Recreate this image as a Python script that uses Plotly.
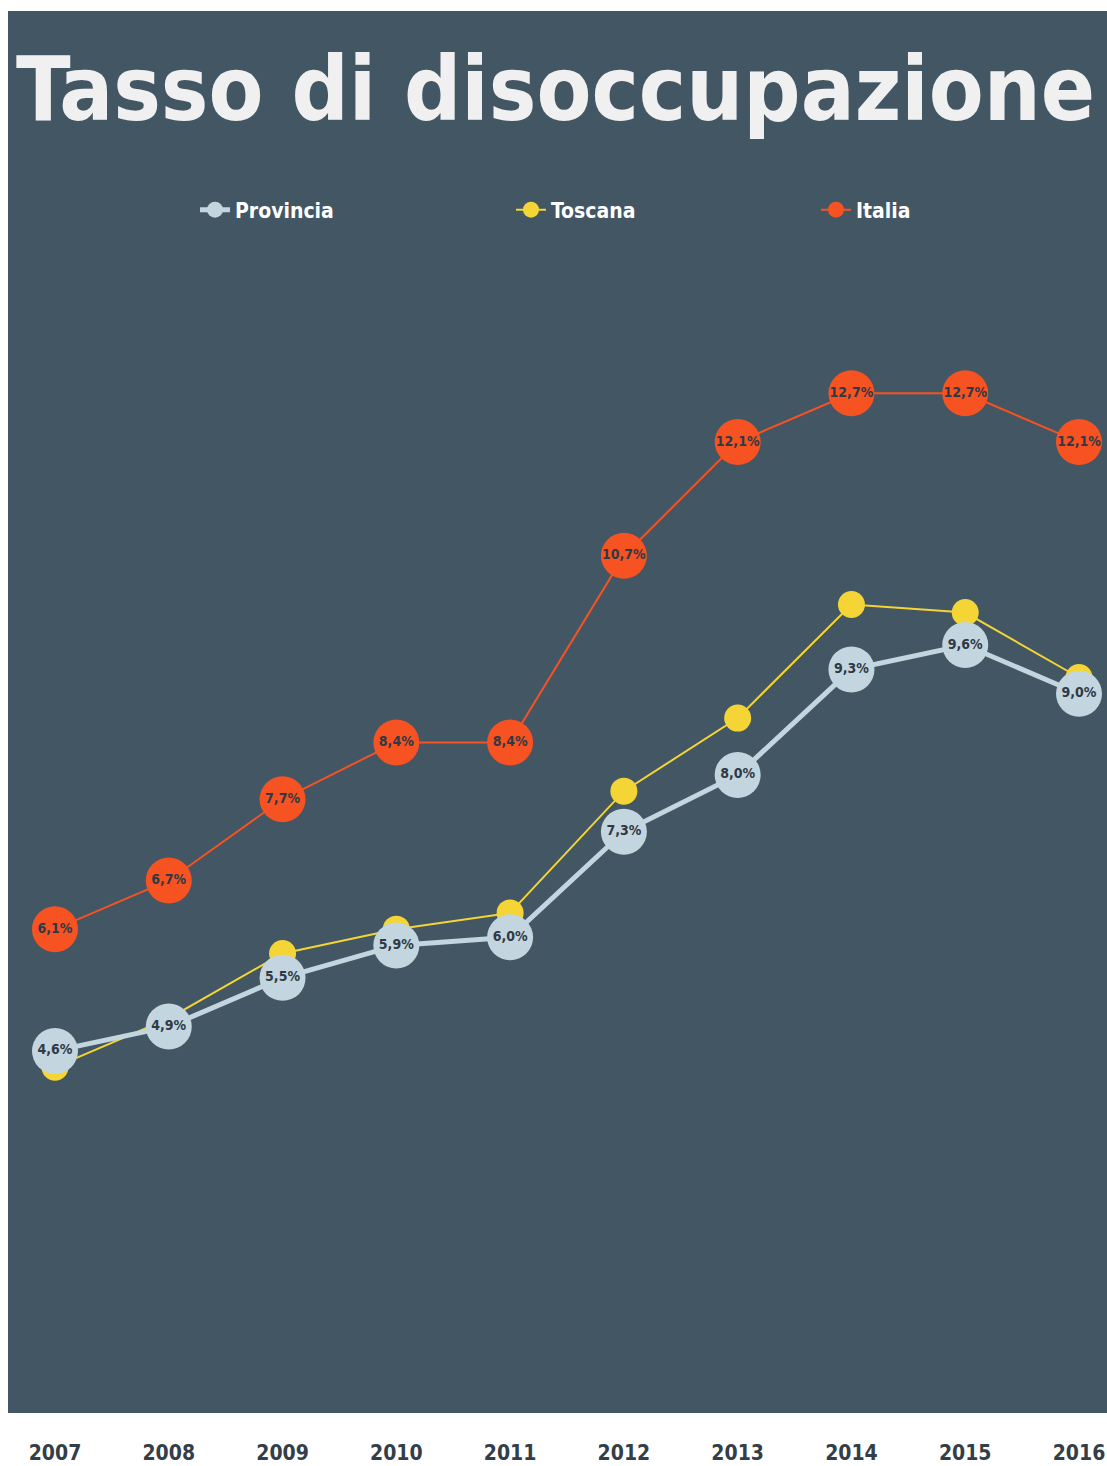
import plotly.graph_objects as go

# Unemployment rate (%) by year
years = [2007, 2008, 2009, 2010, 2011, 2012, 2013, 2014, 2015, 2016]
provincia = [4.6, 4.9, 5.5, 5.9, 6.0, 7.3, 8.0, 9.3, 9.6, 9.0]
toscana = [4.4, 5.0, 5.8, 6.1, 6.3, 7.8, 8.7, 10.1, 10.0, 9.2]
italia = [6.1, 6.7, 7.7, 8.4, 8.4, 10.7, 12.1, 12.7, 12.7, 12.1]

series_names = ["Provincia", "Toscana", "Italia"]
title_text = "Tasso di disoccupazione"

BG = "#425664"
C_PROV = "#c3d5de"
C_TOSC = "#f4d535"
C_ITA = "#f75222"
LABEL_DARK = "#2e3a45"
FONT = "DejaVu Sans Condensed"

W, H = 1107, 1466
L, R, T, B = 8, 0, 11, 53
plot_w = W - L - R
plot_h = H - T - B


def px_x(p):
    return (p - L) / plot_w


def px_y(p):
    return (H - B - p) / plot_h


def fmt(v):
    return f"{v:.1f}".replace(".", ",") + "%"


label_font = dict(family=FONT, size=14, color=LABEL_DARK, weight="bold")

fig = go.Figure()

fig.add_trace(go.Scatter(
    x=years, y=italia, name=series_names[2], legend="legend3",
    mode="lines+markers+text",
    line=dict(color=C_ITA, width=2),
    marker=dict(color=C_ITA, size=46),
    text=[fmt(v) for v in italia], textposition="middle center",
    textfont=label_font,
))
fig.add_trace(go.Scatter(
    x=years, y=toscana, name=series_names[1], legend="legend2",
    mode="lines+markers",
    line=dict(color=C_TOSC, width=2),
    marker=dict(color=C_TOSC, size=27),
))
fig.add_trace(go.Scatter(
    x=years, y=provincia, name=series_names[0], legend="legend",
    mode="lines+markers+text",
    line=dict(color=C_PROV, width=5),
    marker=dict(color=C_PROV, size=46),
    text=[fmt(v) for v in provincia], textposition="middle center",
    textfont=label_font,
))

fig.add_annotation(
    text=title_text, xref="paper", yref="paper",
    x=px_x(555), y=px_y(89), xanchor="center", yanchor="middle",
    showarrow=False,
    font=dict(family=FONT, size=89, color="#f0f0f0", weight="bold"),
)

legend_style = dict(
    orientation="h", xanchor="left", yanchor="middle",
    bgcolor="rgba(0,0,0,0)",
    font=dict(family=FONT, size=21, color="white", weight="bold"),
    itemsizing="trace",
)
# one legend box per series so each entry sits at its own spot
legend_x = [195, 511, 816]

fig.update_layout(
    width=W, height=H,
    margin=dict(l=L, r=R, t=T, b=B, pad=0),
    paper_bgcolor="white",
    plot_bgcolor=BG,
    showlegend=True,
    legend=dict(x=px_x(legend_x[0]), y=px_y(210), **legend_style),
    legend2=dict(x=px_x(legend_x[1]), y=px_y(210), **legend_style),
    legend3=dict(x=px_x(legend_x[2]), y=px_y(210), **legend_style),
    xaxis=dict(
        range=[2006.587, 2016.246],
        tickvals=years, ticktext=[str(y) for y in years],
        tickfont=dict(family=FONT, size=21, color="#333e48", weight="bold"),
        showgrid=False, zeroline=False, showline=False,
        ticks="outside", ticklen=21, tickcolor="rgba(0,0,0,0)",
        automargin=False, fixedrange=True,
    ),
    yaxis=dict(range=[0.14, 17.41], visible=False, fixedrange=True,
               automargin=False),
)

fig.write_html("out.html")
